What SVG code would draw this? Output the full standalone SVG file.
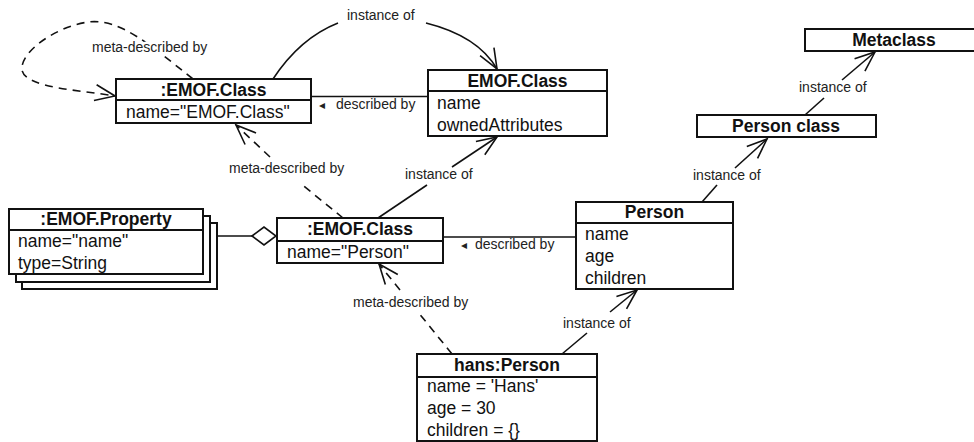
<svg xmlns="http://www.w3.org/2000/svg" width="974" height="442" viewBox="0 0 974 442">
<style>
.box{fill:#fff;stroke:#111;stroke-width:2}
.div{stroke:#111;stroke-width:2}
.t{font-family:"Liberation Sans",Arial,sans-serif;font-size:17.5px;font-weight:bold;fill:#111;text-anchor:middle}
.a{font-family:"Liberation Sans",Arial,sans-serif;font-size:17.5px;fill:#111}
.l{font-family:"Liberation Sans",Arial,sans-serif;font-size:14px;fill:#222}
.tri{font-family:"DejaVu Sans",sans-serif;font-size:12px;fill:#222}
.c{fill:none;stroke:#111;stroke-width:1.6}
.d{fill:none;stroke:#111;stroke-width:1.6;stroke-dasharray:8 6}
.halo{paint-order:stroke;stroke:#fff;stroke-width:5px;stroke-linejoin:round}
</style>
<defs>
<marker id="open" viewBox="-22 -10 24 20" refX="0" refY="0" markerWidth="24" markerHeight="20" markerUnits="userSpaceOnUse" orient="auto">
<path d="M-20,-8 L0,0 L-20,8" fill="none" stroke="#111" stroke-width="1.6" stroke-dasharray="none"/>
</marker>
</defs>

<g id="connectors">
<!-- self loop meta-described by -->
<path class="d" d="M193,79 C150,45 120,18 88,22 C55,27 20,52 22,70 C25,88 80,90 115,96" marker-end="url(#open)"/>
<text class="l halo" x="92" y="52">meta-described by</text>
<!-- instance of top curve -->
<path class="c" d="M273,79 Q300,38 338,23"/>
<path class="c" d="M426,23 Q478,36 497,69" marker-end="url(#open)"/>
<text class="l" x="347" y="20">instance of</text>
<!-- described by top -->
<line class="c" x1="311" y1="96.5" x2="428" y2="96.5"/>
<text class="tri" x="319" y="109">◂</text>
<text class="l" x="336" y="109">described by</text>
<!-- meta-described by box2 -> box1 -->
<path class="d" d="M343,218 L300,183"/>
<path class="d" d="M270,157 L236,125" marker-end="url(#open)"/>
<text class="l" x="229" y="173">meta-described by</text>
<!-- instance of box2 -> EMOF.Class -->
<path class="c" d="M378,218 L427,185"/>
<path class="c" d="M452,167 L497,137" marker-end="url(#open)"/>
<text class="l" x="405" y="179">instance of</text>
<!-- aggregation -->
<line class="c" x1="217" y1="236" x2="252" y2="236"/>
<polygon points="252,236 264,227 276,236 264,245" fill="#fff" stroke="#111" stroke-width="1.6"/>
<!-- described by lower -->
<line class="c" x1="443" y1="237" x2="576" y2="237"/>
<text class="tri" x="461" y="249">◂</text>
<text class="l" x="475" y="249">described by</text>
<!-- meta-described by hans -> box2 -->
<path class="d" d="M452,354 L418,312"/>
<path class="d" d="M400,290 L379,264" marker-end="url(#open)"/>
<text class="l" x="353" y="307">meta-described by</text>
<!-- instance of hans -> Person -->
<path class="c" d="M562,354 L587,333"/>
<path class="c" d="M610,312 L637,290" marker-end="url(#open)"/>
<text class="l" x="563" y="328">instance of</text>
<!-- instance of Person -> Person class -->
<path class="c" d="M702,202 L717,185"/>
<path class="c" d="M735,168 L767,139" marker-end="url(#open)"/>
<text class="l" x="693" y="180">instance of</text>
<!-- instance of Person class -> Metaclass -->
<path class="c" d="M805,115 L824,98"/>
<path class="c" d="M842,80 L875,52" marker-end="url(#open)"/>
<text class="l" x="799" y="92">instance of</text>
</g>

<g id="emofclass-instance">
<rect class="box" x="116" y="79" width="195" height="44"/>
<line class="div" x1="116" y1="100" x2="311" y2="100"/>
<text class="t" x="213.5" y="96">:EMOF.Class</text>
<text class="a" x="126" y="118">name="EMOF.Class"</text>
</g>

<g id="emofclass">
<rect class="box" x="428" y="70" width="179" height="66"/>
<line class="div" x1="428" y1="91" x2="607" y2="91"/>
<text class="t" x="517.5" y="87">EMOF.Class</text>
<text class="a" x="437" y="109">name</text>
<text class="a" x="437" y="131">ownedAttributes</text>
</g>

<g id="metaclass">
<rect class="box" x="805" y="29" width="180" height="22"/>
<text class="t" x="894" y="46">Metaclass</text>
</g>

<g id="personclass">
<rect class="box" x="697" y="115" width="179" height="22"/>
<text class="t" x="786" y="132">Person class</text>
</g>

<g id="emofproperty">
<rect class="box" x="22" y="223" width="195" height="66"/>
<rect class="box" x="16" y="216" width="194" height="66"/>
<rect class="box" x="9" y="209" width="194" height="65"/>
<line class="div" x1="9" y1="230" x2="203" y2="230"/>
<text class="t" x="106" y="225">:EMOF.Property</text>
<text class="a" x="18" y="247">name="name"</text>
<text class="a" x="18" y="269">type=String</text>
</g>

<g id="emofclass-person">
<rect class="box" x="277" y="218" width="166" height="45"/>
<line class="div" x1="277" y1="241" x2="443" y2="241"/>
<text class="t" x="360" y="235">:EMOF.Class</text>
<text class="a" x="287" y="258">name="Person"</text>
</g>

<g id="person">
<rect class="box" x="576" y="202" width="157" height="87"/>
<line class="div" x1="576" y1="223" x2="733" y2="223"/>
<text class="t" x="654.5" y="218">Person</text>
<text class="a" x="585" y="240">name</text>
<text class="a" x="585" y="262">age</text>
<text class="a" x="585" y="284">children</text>
</g>

<g id="hans">
<rect class="box" x="417" y="354" width="180" height="87"/>
<line class="div" x1="417" y1="377" x2="597" y2="377"/>
<text class="t" x="507" y="371">hans:Person</text>
<text class="a" x="427" y="392">name = 'Hans'</text>
<text class="a" x="427" y="414">age = 30</text>
<text class="a" x="427" y="436">children = {}</text>
</g>
</svg>
